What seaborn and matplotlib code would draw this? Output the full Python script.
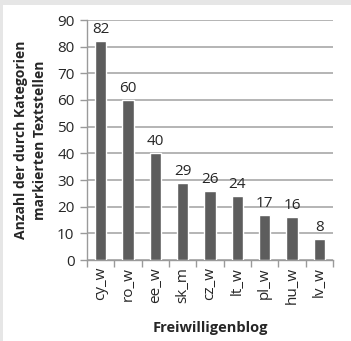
import matplotlib
matplotlib.use("Agg")
import matplotlib.pyplot as plt
import seaborn as sns
import pandas as pd
from matplotlib.patches import Rectangle
from matplotlib.ticker import FixedLocator

categories = ["cy_w", "ro_w", "ee_w", "sk_m", "cz_w", "lt_w", "pl_w", "hu_w", "lv_w"]
values = [82, 60, 40, 29, 26, 24, 17, 16, 8]
y_ticks = [0, 10, 20, 30, 40, 50, 60, 70, 80, 90]

sns.set_theme(style="white")
plt.rcParams['font.family'] = ['Open Sans', 'DejaVu Sans']

df = pd.DataFrame({"blog": categories, "n": values})

fig = plt.figure(figsize=(3.51, 3.41), dpi=100)
fig.patch.set_facecolor("white")
# light gray frame strips (top and left)
fig.patches.append(Rectangle((0, 1 - 5/341), 1, 5/341, transform=fig.transFigure,
                             facecolor="#e6e6e6", edgecolor="none", zorder=0))
fig.patches.append(Rectangle((0, 0), 3/351, 1, transform=fig.transFigure,
                             facecolor="#e6e6e6", edgecolor="none", zorder=0))

ax = fig.add_axes([87/351, 1 - 260/341, 246/351, 240/341])
sns.barplot(data=df, x="blog", y="n", color="#5d5d5d", width=0.41, ax=ax,
            saturation=1, zorder=3)

ax.set_ylim(0, 90)
ax.set_xlim(-0.5, len(categories) - 0.5)
ax.set_yticks(y_ticks)
ax.yaxis.grid(True, color="#a8a8a8", linewidth=1.2, zorder=0)
ax.set_axisbelow(True)

for s in ["top", "right"]:
    ax.spines[s].set_visible(False)
for s in ["left", "bottom"]:
    ax.spines[s].set_color("#9a9a9a")
    ax.spines[s].set_linewidth(1.0)

ax.tick_params(axis="y", which="major", length=5, width=1, color="#9a9a9a",
               labelsize=11, labelcolor="#262626", pad=4, direction="out", left=True)
ax.tick_params(axis="x", which="major", length=0, labelsize=11, labelcolor="#262626",
               pad=5, labelrotation=90)
ax.xaxis.set_minor_locator(FixedLocator([i - 0.5 for i in range(len(categories) + 1)]))
ax.tick_params(axis="x", which="minor", length=5, width=1, color="#9a9a9a",
               direction="out", bottom=True)

for i, v in enumerate(values):
    ax.text(i, v + 1.5, str(v), ha="center", va="bottom", fontsize=11, color="#262626")

ax.set_xlabel("Freiwilligenblog", fontsize=10.5, fontweight="bold", color="#262626", labelpad=12)
ax.set_ylabel("Anzahl der durch Kategorien\nmarkierten Textstellen", fontsize=10,
              fontweight="bold", color="#262626", labelpad=7, linespacing=1.45)

fig.savefig("out.png", dpi=100)
